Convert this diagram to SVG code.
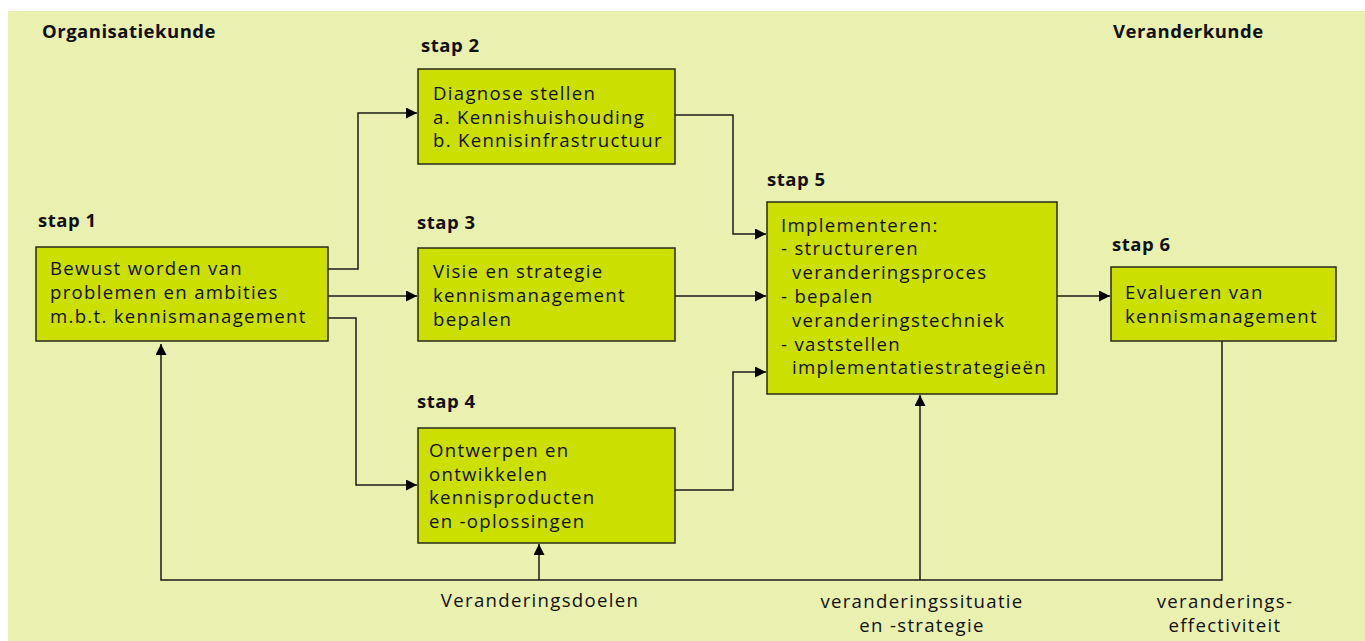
<svg xmlns="http://www.w3.org/2000/svg" width="1365" height="641" viewBox="0 0 1365 641">
<defs>
<style>
.bg{fill:#e9f0b0}
.box{fill:#cbe000;stroke:#2a2a1a;stroke-width:1.5}
.t{font-family:"Open Sans","Noto Sans",sans-serif;font-size:18.6px;letter-spacing:1.3px;fill:#111}
.h{font-family:"Open Sans","Noto Sans",sans-serif;font-size:18.5px;letter-spacing:0.5px;font-weight:bold;fill:#111}
.c{fill:none;stroke:#1a1a1a;stroke-width:1.5}
</style>
<marker id="ah" viewBox="0 0 10 10" refX="10" refY="5" markerWidth="11" markerHeight="11" markerUnits="userSpaceOnUse" orient="auto">
<path d="M0,0 L10,5 L0,10 Z" fill="#000"/>
</marker>
</defs>
<rect width="1365" height="641" fill="#ffffff"/>
<rect class="bg" x="8" y="11" width="1357" height="630"/>
<text class="h" x="42" y="38">Organisatiekunde</text>
<text class="h" x="1113" y="38">Veranderkunde</text>
<g id="connectors">
<path class="c" d="M328,269 H358 V113 H417" marker-end="url(#ah)"/>
<path class="c" d="M328,296 H417" marker-end="url(#ah)"/>
<path class="c" d="M328,318 H356 V485 H417" marker-end="url(#ah)"/>
<path class="c" d="M675,115 H733 V234 H766" marker-end="url(#ah)"/>
<path class="c" d="M675,296 H766" marker-end="url(#ah)"/>
<path class="c" d="M675,490 H733 V372 H766" marker-end="url(#ah)"/>
<path class="c" d="M1057,296 H1110" marker-end="url(#ah)"/>
<path class="c" d="M1222,341 V580 H161 V344" marker-end="url(#ah)"/>
<path class="c" d="M539,580 V544" marker-end="url(#ah)"/>
<path class="c" d="M920,580 V395" marker-end="url(#ah)"/>
</g>
<g id="step1">
<text class="h" x="38" y="227">stap 1</text>
<rect class="box" x="36" y="247" width="292" height="94"/>
<text class="t" x="50" y="275">Bewust worden van</text>
<text class="t" x="50" y="299">problemen en ambities</text>
<text class="t" x="50" y="323">m.b.t. kennismanagement</text>
</g>
<g id="step2">
<text class="h" x="421" y="52">stap 2</text>
<rect class="box" x="418" y="69" width="257" height="95"/>
<text class="t" x="433" y="100">Diagnose stellen</text>
<text class="t" x="433" y="124">a. Kennishuishouding</text>
<text class="t" x="433" y="147">b. Kennisinfrastructuur</text>
</g>
<g id="step3">
<text class="h" x="417" y="229">stap 3</text>
<rect class="box" x="418" y="248" width="257" height="93"/>
<text class="t" x="433" y="278">Visie en strategie</text>
<text class="t" x="433" y="302">kennismanagement</text>
<text class="t" x="433" y="326">bepalen</text>
</g>
<g id="step4">
<text class="h" x="417" y="408">stap 4</text>
<rect class="box" x="418" y="428" width="257" height="115"/>
<text class="t" x="429" y="457">Ontwerpen en</text>
<text class="t" x="429" y="481">ontwikkelen</text>
<text class="t" x="429" y="504">kennisproducten</text>
<text class="t" x="429" y="528">en -oplossingen</text>
</g>
<g id="step5">
<text class="h" x="767" y="186">stap 5</text>
<rect class="box" x="767" y="202" width="290" height="192"/>
<text class="t" x="781" y="232">Implementeren:</text>
<text class="t" x="781" y="255">- structureren</text>
<text class="t" x="792" y="279">veranderingsproces</text>
<text class="t" x="781" y="303">- bepalen</text>
<text class="t" x="792" y="327">veranderingstechniek</text>
<text class="t" x="781" y="351">- vaststellen</text>
<text class="t" x="792" y="374">implementatiestrategieën</text>
</g>
<g id="step6">
<text class="h" x="1112" y="251">stap 6</text>
<rect class="box" x="1111" y="267" width="225" height="74"/>
<text class="t" x="1125" y="299">Evalueren van</text>
<text class="t" x="1125" y="323">kennismanagement</text>
</g>
<g id="labels">
<text class="t" x="540" y="607" text-anchor="middle">Veranderingsdoelen</text>
<text class="t" x="922" y="608" text-anchor="middle">veranderingssituatie</text>
<text class="t" x="922" y="632" text-anchor="middle">en -strategie</text>
<text class="t" x="1225" y="608" text-anchor="middle">veranderings-</text>
<text class="t" x="1225" y="632" text-anchor="middle">effectiviteit</text>
</g>
</svg>
